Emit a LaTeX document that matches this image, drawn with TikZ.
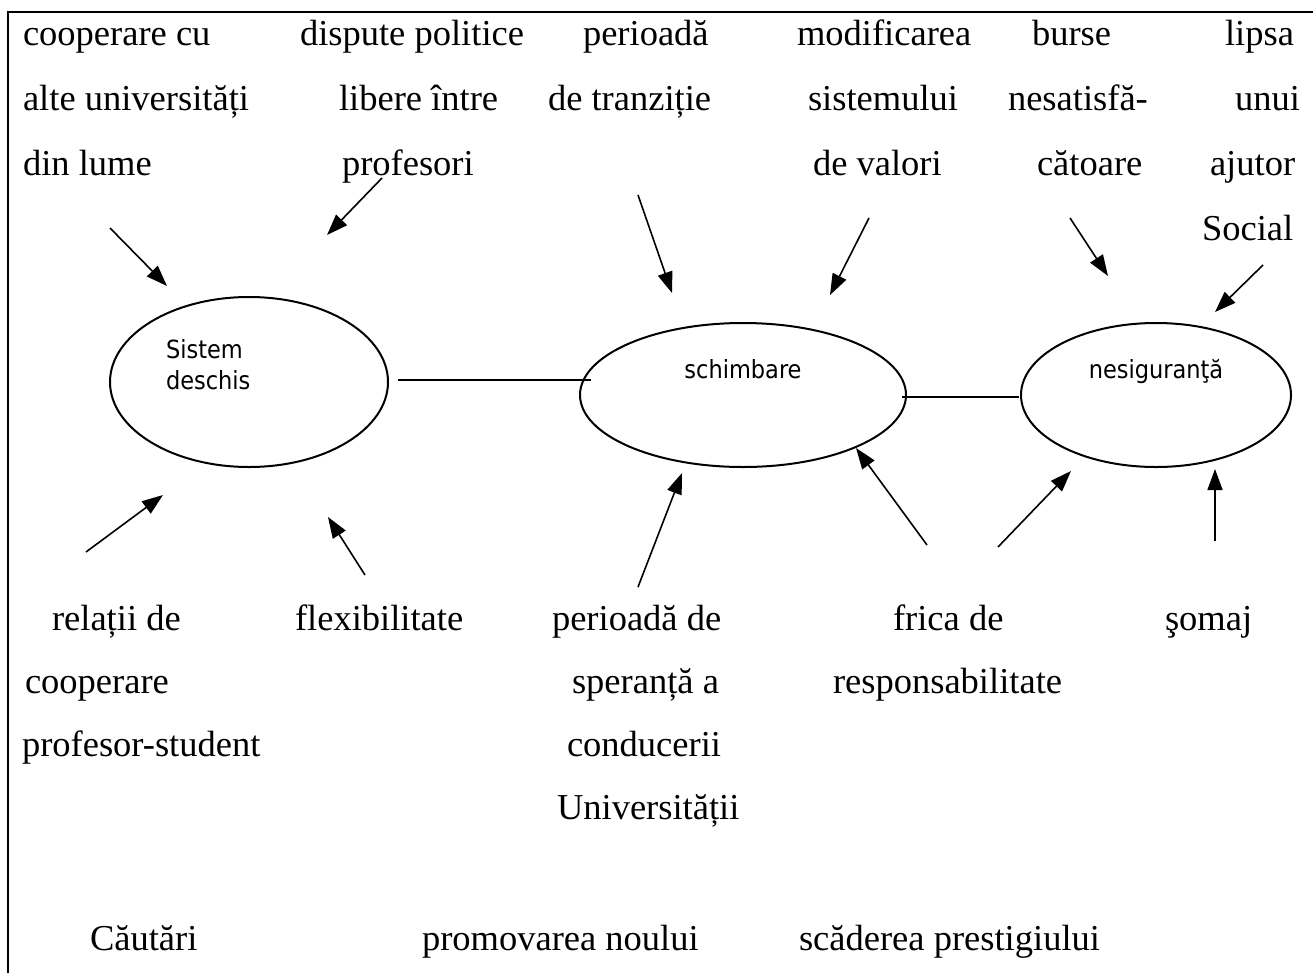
\documentclass[tikz,border=0pt]{standalone}
\usepackage{fontspec}
\setmainfont{Liberation Serif}
\newfontfamily\ellfont{DejaVu Sans Condensed}
\usetikzlibrary{arrows.meta,shapes.geometric}
\tikzset{
  txt/.style={anchor=base west, inner sep=0pt, outer sep=0pt, font=\fontsize{36.5}{44}\selectfont},
  etxt/.style={anchor=base west, inner sep=0pt, outer sep=0pt, font=\ellfont\fontsize{25}{30}\selectfont},
  ell/.style={draw, ellipse, line width=2pt, inner sep=0pt},
  arr/.style={line width=1.6pt, -{Triangle[length=21pt,width=15pt]}},
  link/.style={line width=2pt},
  frame/.style={line width=2.6pt}
}
\begin{document}
\begin{tikzpicture}[x=1pt,y=-1pt]
\useasboundingbox (0,0) rectangle (1313,972);
% frame
\coordinate (fb) at (8,975);
\coordinate (fc) at (8,12);
\coordinate (fr) at (1316,12);
\draw[frame] (fb) -- (fc) -- (fr);

% ellipses
\node[ell, minimum width=278pt, minimum height=170pt] (e1) at (249,382) {};
\node[ell, minimum width=326pt, minimum height=144pt] (e2) at (743,395) {};
\node[ell, minimum width=270pt, minimum height=144pt] (e3) at (1156,395) {};
\node[etxt] (s1) at (166,358) {Sistem};
\node[etxt] (s2) at (166,389) {deschis};
\node[etxt, anchor=base] (s3) at (743,378) {schimbare};
\node[etxt, anchor=base] (s4) at (1156,378) {nesiguranţă};

% links
\coordinate (l1a) at (398,380);
\coordinate (l1b) at (591,380);
\coordinate (l2a) at (902,397);
\coordinate (l2b) at (1019,397);
\draw[link] (l1a) -- (l1b);
\draw[link] (l2a) -- (l2b);

% top texts
\node[txt] (a1) at (23,45) {cooperare cu};
\node[txt] (a2) at (23,110) {alte universități};
\node[txt] (a3) at (23,175) {din lume};
\node[txt] (b1) at (300,45) {dispute politice};
\node[txt] (b2) at (339,110) {libere între};
\node[txt] (b3) at (342,175) {profesori};
\node[txt] (c1) at (583,45) {perioadă};
\node[txt] (c2) at (548,110) {de tranziție};
\node[txt] (d1) at (797,45) {modificarea};
\node[txt] (d2) at (808,110) {sistemului};
\node[txt] (d3) at (813,175) {de valori};
\node[txt] (g1) at (1032,45) {burse};
\node[txt] (g2) at (1008,110) {nesatisfă-};
\node[txt] (g3) at (1037,175) {cătoare};
\node[txt] (h1) at (1225,45) {lipsa};
\node[txt] (h2) at (1235,110) {unui};
\node[txt] (h3) at (1210,175) {ajutor};
\node[txt] (h4) at (1202,240) {Social};

% bottom texts
\node[txt] (r1) at (52,630) {relații de};
\node[txt] (r2) at (25,693) {cooperare};
\node[txt] (r3) at (22,756) {profesor-student};
\node[txt] (f1) at (295,630) {flexibilitate};
\node[txt] (p1) at (552,630) {perioadă de};
\node[txt] (p2) at (572,693) {speranță a};
\node[txt] (p3) at (567,756) {conducerii};
\node[txt] (p4) at (557,819) {Universității};
\node[txt] (q1) at (893,630) {frica de};
\node[txt] (q2) at (833,693) {responsabilitate};
\node[txt] (o1) at (1165,630) {şomaj};
\node[txt] (z1) at (90,950) {Căutări};
\node[txt] (z2) at (422,950) {promovarea noului};
\node[txt] (z3) at (799,950) {scăderea prestigiului};

% arrows
\coordinate (A1s) at (110,228);  \coordinate (A1t) at (167,286);
\coordinate (A2s) at (382,178);  \coordinate (A2t) at (327,235);
\coordinate (A3s) at (638,195);  \coordinate (A3t) at (672,293);
\coordinate (A4s) at (869,218);  \coordinate (A4t) at (830,295);
\coordinate (A5s) at (1070,218); \coordinate (A5t) at (1108,276);
\coordinate (A6s) at (1263,265); \coordinate (A6t) at (1215,312);
\coordinate (A7s) at (86,552);   \coordinate (A7t) at (163,495);
\coordinate (A8s) at (365,575);  \coordinate (A8t) at (328,517);
\coordinate (A9s) at (638,587);  \coordinate (A9t) at (682,473);
\coordinate (A10s) at (927,545); \coordinate (A10t) at (856,448);
\coordinate (A11s) at (998,547); \coordinate (A11t) at (1071,471);
\coordinate (A12s) at (1215,541);\coordinate (A12t) at (1215,469);
\foreach \i in {1,...,12} {\draw[arr] (A\i s) -- (A\i t);}
\end{tikzpicture}
\end{document}
